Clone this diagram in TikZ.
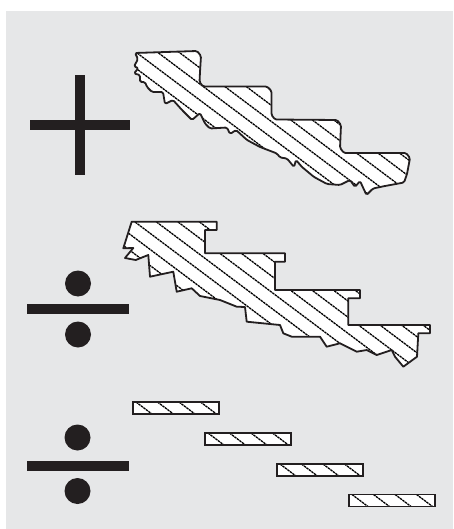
\documentclass[tikz,border=0pt]{standalone}
\usetikzlibrary{calc}
\definecolor{bg}{HTML}{E6E7E8}
\definecolor{ink}{HTML}{231F20}
\begin{document}
\begin{tikzpicture}[x=1pt,y=-1pt,
  outline/.style={draw=ink,line width=1.8pt,line join=round},
  hatch/.style={black,line width=1.3pt,dash pattern=on 2.4pt off 0.7pt},
  barbox/.style={draw=ink,line width=1.5pt}]
\useasboundingbox (0,0) rectangle (453,529);
\fill[white] (0,0) rectangle (453,529);
\fill[bg] (6,11) rectangle (453,529);
% plus sign
\fill[ink] (30,120) rectangle (130,130);
\fill[ink] (75,75) rectangle (85,175);
% divide sign 1
\fill[ink] (27,304) rectangle (129,314);
\fill[ink] (78,283.5) circle (13pt);
\fill[ink] (78,334.5) circle (13pt);
% divide sign 2
\fill[ink] (27,461) rectangle (129,471);
\fill[ink] (77.5,437.5) circle (13pt);
\fill[ink] (77.5,491) circle (13pt);
% shape 1
\def\shapeA{(135,53) -- (197,51) -- (201,56) -- (200,72) -- (199.5,82) -- (203,86.5) -- (267,86.5) -- (271.5,91) -- (271.5,115) -- (275,119.5) -- (337,120) -- (341,125) -- (340,148) -- (344,153) -- (406,153) -- (410,158) -- (407,174) -- (404,182.5) -- (385,186) -- (373,188.5) -- (366.5,195) -- (360,181) -- (355,187) -- (350,180) -- (340,185) -- (327,184) -- (314,177) -- (302,167) -- (296,160) -- (294,167) -- (287,158.5) -- (280,157.5) -- (277,153.5) -- (260,147) -- (247,140) -- (236,130) -- (230,134) -- (227,127.5) -- (210,128.5) -- (205,123.5) -- (200,113) -- (192,120) -- (182,110) -- (173,100) -- (165,104) -- (163,92) -- (152,92) -- (147,87) -- (145,82) -- (140,82) -- (140,75) -- (134,73.5) -- (138.5,68) -- (134,66.5) -- (138,59) -- cycle}
\begin{scope}
\clip \shapeA;
\fill[white] (100,30) rectangle (450,220);
\foreach \k in {-20,...,20} \draw[hatch] ({137+21.5*\k-300},{53-225}) -- ++(600,450);
\end{scope}
\draw[outline,rounded corners=1.5pt] \shapeA;
% shape 2
\def\shapeB{(131.7,221.7) -- (216.7,221.7) -- (216.7,230) -- (205,230) -- (205,253.3) -- (285,253.3) -- (285,261.7) -- (275,261.7) -- (275,290) -- (360,290) -- (360,298.3) -- (348.3,298.3) -- (348.3,325) -- (430,325) -- (430,333.3) -- (418.3,333.3) -- (417,356.7) -- (403.3,366.7) -- (395,356.7) -- (391.7,350) -- (376.7,355) -- (366.7,350) -- (356.7,351.7) -- (340,343.3) -- (326.7,346.7) -- (320,336.7) -- (313.3,336.7) -- (291.7,336.7) -- (283.3,333.3) -- (280,325) -- (246.7,321.7) -- (245,307) -- (236.7,306.7) -- (220,300) -- (210,298) -- (200,296) -- (191.7,288.3) -- (176.7,291.7) -- (173.3,271.7) -- (150,276.7) -- (148.3,255) -- (135.7,260) -- (125,258) -- (133.3,248) -- (123.3,248.3) -- cycle}
\begin{scope}
\clip \shapeB;
\fill[white] (100,200) rectangle (450,380);
\foreach \k in {-20,...,20} \draw[hatch] ({135+21.5*\k-300},{222-225}) -- ++(600,450);
\end{scope}
\draw[outline] \shapeB;
% bars
\foreach \bx/\by in {133/402, 205/433, 277/464, 349/494.5} {
  \fill[white] (\bx,\by) rectangle ++(86,12);
  \begin{scope}
  \clip (\bx,\by) rectangle ++(86,12);
  \foreach \k in {0,...,4} \draw[hatch] ({\bx+3+21.5*\k},\by) -- ++(16,12);
  \end{scope}
  \draw[barbox] (\bx,\by) rectangle ++(86,12);
}
\end{tikzpicture}
\end{document}
